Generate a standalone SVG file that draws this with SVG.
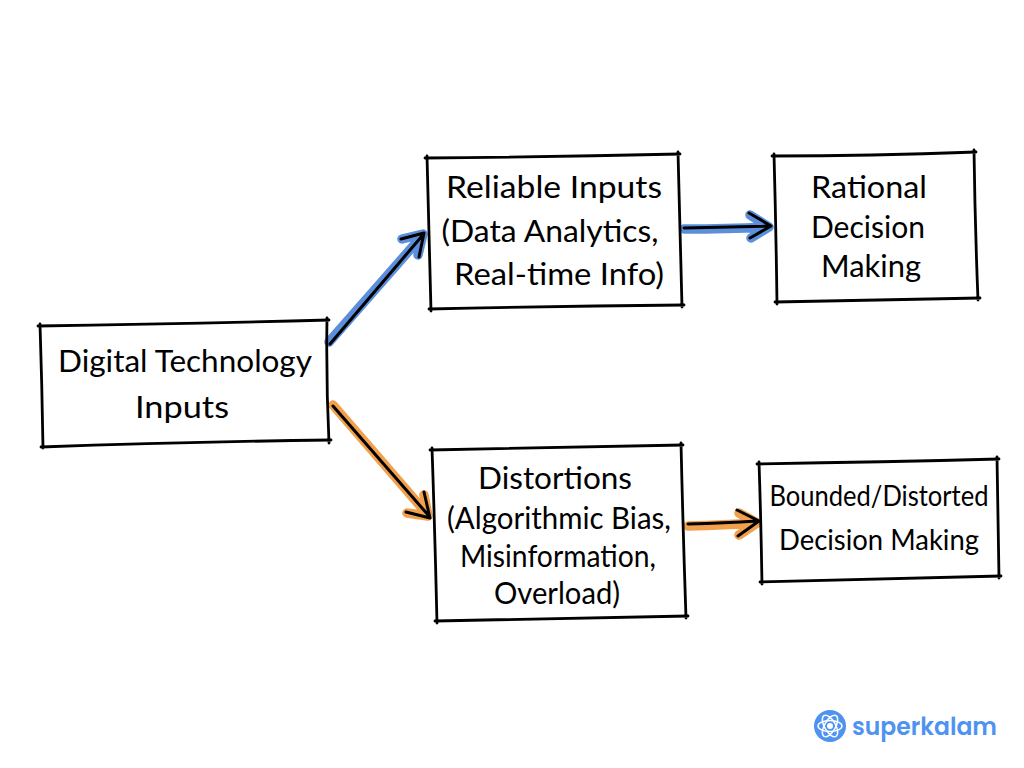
<svg xmlns="http://www.w3.org/2000/svg" width="1024" height="768" viewBox="0 0 1024 768">
<style>
.b{fill:none;stroke:#000;stroke-width:2.8;stroke-linecap:round;stroke-linejoin:round}
.t{font-family:"Lato","Liberation Sans",sans-serif;font-size:31px;fill:#000;text-anchor:middle}
.s{font-size:28px}
.k{fill:none;stroke:#000;stroke-width:3;stroke-linecap:round;stroke-linejoin:round}
.h{fill:none;stroke-width:9.5;stroke-linecap:round;stroke-linejoin:round}
.blue{stroke:#5b8fdc}.or{stroke:#f2a04c}
</style>
<rect width="1024" height="768" fill="#fff"/>
<g id="connectors">
<g id="c1"><path class="h blue" d="M329 342L422 236M402 239L423 234L418 255"/><path class="k" d="M330 344L422 236M401 239L424 233L419 257"/></g>
<g id="c2"><path class="h blue" d="M684 229Q730 229 768 227M750 215L769 227L751 238"/><path class="k" d="M684 228Q730 227 770 226M749 213L771 226L750 238"/></g>
<g id="c3"><path class="h or" d="M333 405L428 515M424 495L428 516L407 513"/><path class="k" d="M333 406L429 516M424 492L430 518L406 512"/></g>
<g id="c4"><path class="h or" d="M688 526Q725 525 756 523M739 513L757 523L739 535"/><path class="k" d="M688 524Q725 523 757 521M737 510L759 521L738 536"/></g>
</g>
<g id="n1"><path class="b" d="M38 326Q180 324 329 320M327 318Q326 380 329 443M331 440Q180 442 41 447M43 448Q42 385 40 324"/>
<text class="t" x="185" y="372" textLength="254" lengthAdjust="spacingAndGlyphs">Digital Technology</text>
<text class="t" x="182" y="418" textLength="94" lengthAdjust="spacingAndGlyphs">Inputs</text></g>
<g id="n2"><path class="b" d="M425 158Q550 157 680 154M678 152Q680 230 682 307M684 305Q555 306 429 309M431 311Q429 232 427 156"/>
<text class="t" x="554" y="198" textLength="216" lengthAdjust="spacingAndGlyphs">Reliable Inputs</text>
<text class="t" x="550" y="242" textLength="217" lengthAdjust="spacingAndGlyphs">(Data Analytics,</text>
<text class="t" x="559" y="285" textLength="210" lengthAdjust="spacingAndGlyphs">Real-time Info)</text></g>
<g id="n3"><path class="b" d="M772 156Q870 156 976 152M974 150Q975 225 978 300M980 298Q880 300 775 302M777 304Q776 228 774 154"/>
<text class="t" x="869" y="198" textLength="116" lengthAdjust="spacingAndGlyphs">Rational</text>
<text class="t" x="868" y="238" textLength="114" lengthAdjust="spacingAndGlyphs">Decision</text>
<text class="t" x="871" y="277" textLength="100" lengthAdjust="spacingAndGlyphs">Making</text></g>
<g id="n4"><path class="b" d="M430 450Q555 448 683 445M681 443Q683 530 686 618M688 616Q560 618 435 621M437 623Q435 535 432 448"/>
<text class="t" x="555" y="489" textLength="154" lengthAdjust="spacingAndGlyphs">Distortions</text>
<text class="t" x="559" y="529" textLength="224" lengthAdjust="spacingAndGlyphs">(Algorithmic Bias,</text>
<text class="t" x="558" y="567" textLength="196" lengthAdjust="spacingAndGlyphs">Misinformation,</text>
<text class="t" x="557" y="604" textLength="126" lengthAdjust="spacingAndGlyphs">Overload)</text></g>
<g id="n5"><path class="b" d="M757 464Q880 462 999 459M997 457Q998 518 999 578M1001 576Q880 579 760 582M762 584Q761 522 759 462"/>
<text class="t s" x="879" y="506" textLength="219" lengthAdjust="spacingAndGlyphs">Bounded/Distorted</text>
<text class="t s" x="879" y="550" textLength="200" lengthAdjust="spacingAndGlyphs">Decision Making</text></g>
<g id="logo"><circle cx="830" cy="726" r="16" fill="#4f93f0"/>
<g fill="none" stroke="#fff" stroke-width="1.5"><ellipse cx="830" cy="726" rx="12" ry="5.5"/><ellipse cx="830" cy="726" rx="12" ry="5.5" transform="rotate(60 830 726)"/><ellipse cx="830" cy="726" rx="12" ry="5.5" transform="rotate(120 830 726)"/></g><circle cx="830" cy="726" r="3" fill="#fff"/>
<text x="852" y="735" font-family="Poppins,Inter,'Liberation Sans',sans-serif" font-size="25" font-weight="600" fill="#4f93f0" textLength="145" lengthAdjust="spacingAndGlyphs">superkalam</text></g>
</svg>
